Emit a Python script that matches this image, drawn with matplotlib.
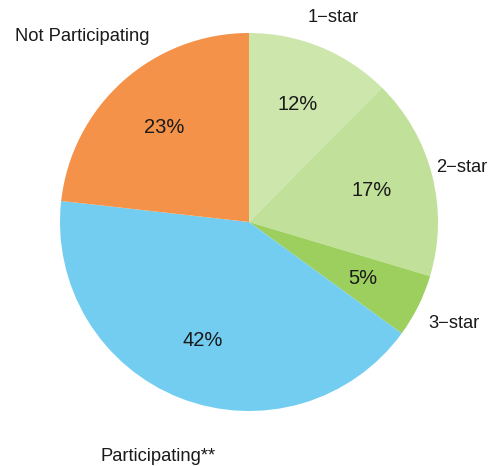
import matplotlib
matplotlib.use("Agg")
import matplotlib.pyplot as plt
import numpy as np

plt.rcParams['font.family'] = ['Liberation Sans', 'DejaVu Sans']

# slices, clockwise from 12 o'clock
categories = ['1\u2212star', '2\u2212star', '3\u2212star', 'Participating**', 'Not Participating']
shares = [12.4, 17.2, 5.4, 41.7, 23.2]
pct_labels = ['12%', '17%', '5%', '42%', '23%']
colors = ['#cde6ac', '#c1e09a', '#9dcf5e', '#72cdf0', '#f5924a']
label_dist = [1.17, 1.16, 1.21, 1.33, 1.32]

fig = plt.figure(figsize=(4.96, 4.66), dpi=100)
ax = fig.add_axes([0, 0, 1, 1])

wedges, _ = ax.pie(shares, colors=colors, startangle=90, counterclock=False,
                   radius=1.0, wedgeprops=dict(linewidth=0))

for w, name, pct, d in zip(wedges, categories, pct_labels, label_dist):
    mid = np.deg2rad((w.theta1 + w.theta2) / 2)
    ax.text(0.67 * np.cos(mid), 0.67 * np.sin(mid), pct, ha='center', va='center',
            fontsize=14.5, color='#1a1a1a')
    ax.text(d * np.cos(mid), d * np.sin(mid), name, ha='center', va='center',
            fontsize=13.2, color='#1a1a1a')

# place pie centre at (249, 222) px with radius 189 px
s = 189.0
ax.set_xlim(-249 / s, (496 - 249) / s)
ax.set_ylim((222 - 466) / s, 222 / s)
ax.set_aspect('auto')
ax.axis('off')

fig.savefig('out.png', dpi=100)
